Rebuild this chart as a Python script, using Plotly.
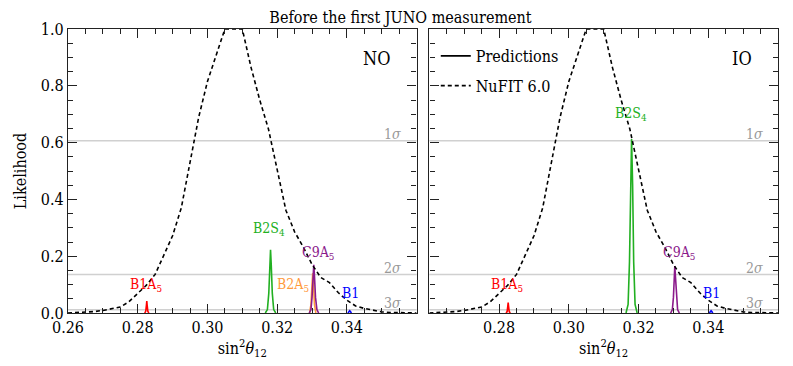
import plotly.graph_objects as go

# NuFIT 6.0 likelihood profile for sin^2(theta_12)
nufit_x = [0.2600, 0.2650, 0.2675, 0.2700, 0.2725, 0.2750, 0.2775, 0.2800, 0.2825, 0.2850,
           0.2875, 0.2900, 0.2925, 0.2950, 0.2975, 0.3000, 0.3025, 0.3050, 0.3075, 0.3100,
           0.3125, 0.3150, 0.3175, 0.3200, 0.3225, 0.3250, 0.3275, 0.3300, 0.3325, 0.3350,
           0.3375, 0.3400, 0.3425, 0.3450, 0.3475, 0.3500, 0.3525, 0.3550, 0.3600]
nufit_y = [0.000, 0.002, 0.005, 0.009, 0.014, 0.021, 0.040, 0.068, 0.098, 0.136,
           0.205, 0.272, 0.370, 0.530, 0.690, 0.815, 0.905, 1.000, 1.000, 1.000,
           0.865, 0.750, 0.648, 0.505, 0.362, 0.286, 0.232, 0.171, 0.125, 0.107,
           0.072, 0.045, 0.025, 0.016, 0.009, 0.004, 0.002, 0.001, 0.000]

# model predictions, normal ordering (NO)
no_peaks = {
    "B1A5": dict(x=[0.2820, 0.2823, 0.2825, 0.2826, 0.2827, 0.2829, 0.2832],
                 y=[0.0, 0.006, 0.028, 0.042, 0.028, 0.006, 0.0]),
    "B2S4": dict(x=[0.3166, 0.3172, 0.3176, 0.3179, 0.3181, 0.3183, 0.3186, 0.3190, 0.3196],
                 y=[0.0, 0.012, 0.070, 0.170, 0.223, 0.170, 0.070, 0.012, 0.0]),
    "B2A5": dict(x=[0.3293, 0.3297, 0.3300, 0.3302, 0.3304, 0.3307, 0.3311],
                 y=[0.0, 0.030, 0.100, 0.140, 0.100, 0.030, 0.0]),
    "C9A5": dict(x=[0.3292, 0.3297, 0.3300, 0.3303, 0.3305, 0.3307, 0.3310, 0.3314, 0.3319],
                 y=[0.0, 0.012, 0.055, 0.130, 0.170, 0.130, 0.055, 0.012, 0.0]),
    "B1": dict(x=[0.3403, 0.3406, 0.3408, 0.3410, 0.3413],
               y=[0.0, 0.005, 0.008, 0.005, 0.0]),
}

# model predictions, inverted ordering (IO)
io_peaks = {
    "B1A5": dict(x=[0.2820, 0.2823, 0.2825, 0.2826, 0.2827, 0.2829, 0.2832],
                 y=[0.0, 0.005, 0.025, 0.037, 0.025, 0.005, 0.0]),
    "B2S4": dict(x=[0.3164, 0.3170, 0.3174, 0.3177, 0.3180, 0.3183, 0.3186, 0.3190, 0.3196],
                 y=[0.0, 0.030, 0.180, 0.450, 0.613, 0.450, 0.180, 0.030, 0.0]),
    "C9A5": dict(x=[0.3292, 0.3297, 0.3300, 0.3302, 0.3304, 0.3306, 0.3309, 0.3312, 0.3317],
                 y=[0.0, 0.012, 0.055, 0.125, 0.165, 0.125, 0.055, 0.012, 0.0]),
    "B1": dict(x=[0.3403, 0.3406, 0.3408, 0.3410, 0.3413],
               y=[0.0, 0.005, 0.008, 0.005, 0.0]),
}

model_colors = {"B1A5": "#ff0000", "B2S4": "#22b022", "B2A5": "#ff9a3c",
                "C9A5": "#8b1a8b", "B1": "#0000ff"}
model_labels = {"B1A5": "B1A<sub>5</sub>", "B2S4": "B2S<sub>4</sub>", "B2A5": "B2A<sub>5</sub>",
                "C9A5": "C9A<sub>5</sub>", "B1": "B1"}

# label anchor points (x, y) in data coords
no_label_pos = {"B1A5": (0.2825, 0.100), "B2S4": (0.3177, 0.295), "B2A5": (0.3246, 0.100),
                "C9A5": (0.3316, 0.212), "B1": (0.3409, 0.070)}
io_label_pos = {"B1A5": (0.2824, 0.100), "B2S4": (0.3178, 0.700),
                "C9A5": (0.3316, 0.212), "B1": (0.3408, 0.070)}

sigma_levels = [0.6065, 0.1353, 0.0111]
sigma_names = ["1<i>σ</i>", "2<i>σ</i>", "3<i>σ</i>"]

left_ticks = [0.26, 0.28, 0.30, 0.32, 0.34]
right_ticks = [0.28, 0.30, 0.32, 0.34, 0.36]
y_ticks = [0.0, 0.2, 0.4, 0.6, 0.8, 1.0]

FONT = "DejaVu Serif Condensed, DejaVu Serif"

fig = go.Figure()

panels = [("x", "y", no_peaks, no_label_pos, "NO"), ("x2", "y2", io_peaks, io_label_pos, "IO")]

for xa, ya, peaks, label_pos, tag in panels:
    # sigma reference lines
    for lvl in sigma_levels:
        fig.add_shape(type="line", xref=f"{xa} domain", yref=ya, x0=0, x1=1, y0=lvl, y1=lvl,
                      line=dict(color="#d0d0d0", width=1.5), layer="below")
    for lvl, name in zip(sigma_levels, sigma_names):
        fig.add_annotation(xref=f"{xa} domain", yref=ya, x=0.962, y=lvl, text=name,
                           showarrow=False, xanchor="right", yanchor="bottom", yshift=-3,
                           font=dict(family=FONT, size=14, color="#999999"))

    for name, pk in peaks.items():
        fig.add_trace(go.Scatter(x=pk["x"], y=pk["y"], mode="lines", xaxis=xa, yaxis=ya,
                                 line=dict(color=model_colors[name], width=1.6),
                                 showlegend=False, hoverinfo="skip"))
        lx, ly = label_pos[name]
        fig.add_annotation(xref=xa, yref=ya, x=lx, y=ly, text=model_labels[name],
                           showarrow=False, font=dict(family=FONT, size=14, color=model_colors[name]))

    fig.add_trace(go.Scatter(x=nufit_x, y=nufit_y, mode="lines", xaxis=xa, yaxis=ya,
                             name="NuFIT 6.0", legendgroup="nufit", legendrank=2,
                             line=dict(color="black", width=1.6, dash="4px,3px"),
                             showlegend=(tag == "IO"), hoverinfo="skip"))

    fig.add_annotation(xref=f"{xa} domain", yref=f"{ya} domain", x=0.93, y=0.94, text=tag,
                       showarrow=False, font=dict(family=FONT, size=18, color="black"))

# legend-only entry for the solid prediction lines
fig.add_trace(go.Scatter(x=[None], y=[None], mode="lines", xaxis="x2", yaxis="y2",
                         name="Predictions", legendgroup="pred", legendrank=1,
                         line=dict(color="black", width=1.6)))

axis_common = dict(showline=True, linecolor="#222222", linewidth=1.3, mirror="allticks",
                   ticks="inside", ticklen=9, tickwidth=1, tickcolor="#222222",
                   showgrid=False, zeroline=False,
                   tickfont=dict(family=FONT, size=16, color="black"))

# page body has an 8px margin, so the figure is a bit smaller than the window
fig.update_layout(
    width=785, height=358,
    margin=dict(l=43, r=15, t=20, b=53),
    plot_bgcolor="white", paper_bgcolor="white",
    font=dict(family=FONT, size=16, color="black"),
    title=dict(text="Before the first JUNO measurement", x=0.5, xanchor="center",
               y=0.975, yanchor="middle", pad=dict(t=0, b=0),
               font=dict(family=FONT, size=16)),
    xaxis=dict(domain=[0, 0.491], range=[0.26, 0.36], tickvals=left_ticks,
               ticktext=[f"{v:.2f}" for v in left_ticks],
               minor=dict(dtick=0.005, ticks="inside", ticklen=5, tickcolor="#222222"),
               title=dict(text="sin<sup>2</sup><i>θ</i><sub>12</sub>", standoff=4,
                          font=dict(family=FONT, size=16)),
               **axis_common),
    xaxis2=dict(domain=[0.509, 1], range=[0.26, 0.36], tickvals=right_ticks,
                ticktext=[f"{v:.2f}" for v in right_ticks],
                minor=dict(dtick=0.005, ticks="inside", ticklen=5, tickcolor="#222222"),
                title=dict(text="sin<sup>2</sup><i>θ</i><sub>12</sub>", standoff=4,
                           font=dict(family=FONT, size=16)),
                anchor="y2", **axis_common),
    yaxis=dict(range=[0, 1], tickvals=y_ticks, ticktext=[f"{v:.1f}" for v in y_ticks],
               minor=dict(dtick=0.05, ticks="inside", ticklen=5, tickcolor="#222222"),
               title=dict(text="Likelihood", standoff=10, font=dict(family=FONT, size=16)),
               **axis_common),
    yaxis2=dict(range=[0, 1], tickvals=y_ticks, showticklabels=False, anchor="x2",
                minor=dict(dtick=0.05, ticks="inside", ticklen=5, tickcolor="#222222"),
                **axis_common),
    legend=dict(x=0.518, y=0.965, xanchor="left", yanchor="top", bgcolor="rgba(0,0,0,0)",
                font=dict(family=FONT, size=16), tracegroupgap=6, traceorder="grouped"),
)

fig.write_html("out.html")
